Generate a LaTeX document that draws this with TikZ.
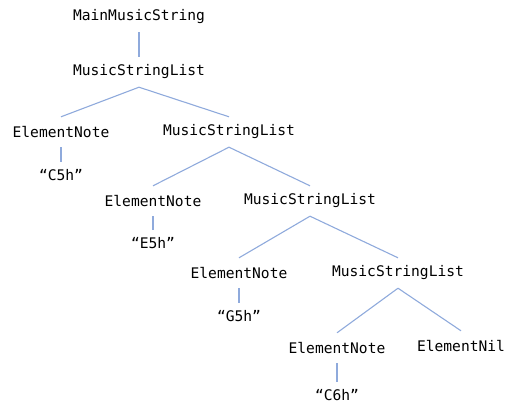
\documentclass[tikz,border=0pt]{standalone}
\usepackage{fontspec}
\setmonofont{DejaVu Sans Mono}
\usepackage{tikz}
\definecolor{edgeblue}{RGB}{143,170,220}

\begin{document}
\begin{tikzpicture}[x=1pt,y=-1pt,
  sym/.style={font=\ttfamily\fontsize{14.6}{16}\selectfont, inner sep=0pt, minimum height=30pt},
  leaf/.style={font=\ttfamily\fontsize{14.6}{16}\selectfont, inner sep=0pt, minimum height=26pt},
  edge/.style={draw=edgeblue, line width=1.1pt}]
  \useasboundingbox (0,0) rectangle (505,404);

  % the tree, top to bottom
  \node[sym] (main) at (139,17) {MainMusicString};
  \node[sym] (list1) at (139,72) {MusicStringList};
  \node[sym] (note1) at (61,132) {ElementNote};
  \node[sym] (list2) at (229,132) {MusicStringList};
  \node[leaf] (c5h) at (61,175) {“C5h”};
  \node[sym] (note2) at (153,201) {ElementNote};
  \node[sym] (list3) at (310,201) {MusicStringList};
  \node[leaf] (e5h) at (153,243) {“E5h”};
  \node[sym] (note3) at (239,273) {ElementNote};
  \node[sym] (list4) at (398,273) {MusicStringList};
  \node[leaf] (g5h) at (239,316) {“G5h”};
  \node[sym] (note4) at (337,348) {ElementNote};
  \node[sym] (nil) at (461,346) {ElementNil};
  \node[leaf] (c6h) at (337,395) {“C6h”};

  \draw[edge] (main) -- (list1);
  \draw[edge] (list1.south) -- (note1.north);
  \draw[edge] (list1.south) -- (list2.north);
  \draw[edge] (note1) -- (c5h);
  \draw[edge] (list2.south) -- (note2.north);
  \draw[edge] (list2.south) -- (list3.north);
  \draw[edge] (note2) -- (e5h);
  \draw[edge] (list3.south) -- (note3.north);
  \draw[edge] (list3.south) -- (list4.north);
  \draw[edge] (note3) -- (g5h);
  \draw[edge] (list4.south) -- (note4.north);
  \draw[edge] (list4.south) -- (nil.north);
  \draw[edge] (note4) -- (c6h);
\end{tikzpicture}
\end{document}
